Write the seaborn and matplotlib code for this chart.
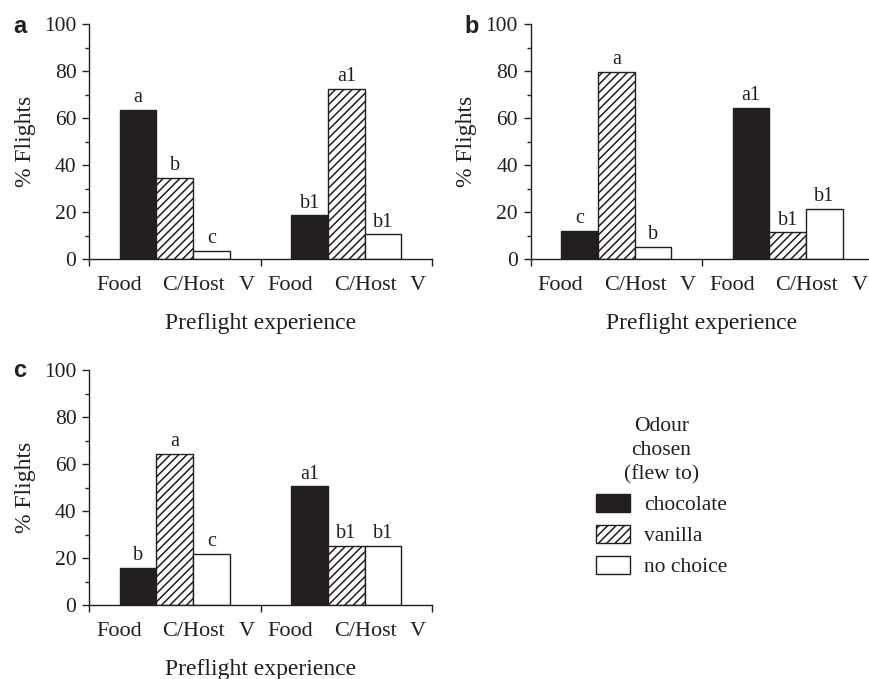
import matplotlib
matplotlib.use("Agg")
import matplotlib.pyplot as plt
import pandas as pd
import seaborn as sns
from matplotlib.patches import Patch
from matplotlib.ticker import MultipleLocator

# ---- data -------------------------------------------------------------
odours = ["chocolate", "vanilla", "no choice"]
trials = ["first", "second"]

# % flights to each odour, left and right preflight sets of each panel
a_first = [63.5, 34.5, 3.6]
a_second = [18.6, 72.5, 10.5]
b_first = [12.0, 79.5, 5.0]
b_second = [64.2, 11.3, 21.3]
c_first = [15.8, 64.4, 21.6]
c_second = [50.5, 25.3, 25.3]

# significance letters above each bar
a_first_sig = ["a", "b", "c"]
a_second_sig = ["b1", "a1", "b1"]
b_first_sig = ["c", "a", "b"]
b_second_sig = ["a1", "b1", "b1"]
c_first_sig = ["b", "a", "c"]
c_second_sig = ["a1", "b1", "b1"]

experience_labels = ["Food", "C/Host", "V"]
panel_letters = ["a", "b", "c"]

# ---- style ------------------------------------------------------------
INK = "#231f20"
sns.set_style("ticks")
plt.rcParams.update({
    "font.family": ["Liberation Serif", "DejaVu Serif"],
    "font.size": 15,
    "text.color": INK,
    "axes.labelcolor": INK,
    "axes.edgecolor": INK,
    "axes.linewidth": 1.0,
    "xtick.color": INK,
    "ytick.color": INK,
    "hatch.color": INK,
    "hatch.linewidth": 1.1,
})

palette = {"chocolate": INK, "vanilla": "white", "no choice": "white"}
hatches = {"chocolate": "", "vanilla": "////", "no choice": ""}

W, H = 870, 679
fig = plt.figure(figsize=(W / 100, H / 100), dpi=100)


def px_axes(left, top, width, height):
    return fig.add_axes([left / W, 1 - (top + height) / H, width / W, height / H])


def draw_panel(ax, first, second, first_sig, second_sig):
    df = pd.DataFrame({
        "trial": [t for t in trials for _ in odours],
        "odour": odours * len(trials),
        "pct": list(first) + list(second),
    })
    sns.barplot(data=df, x="trial", y="pct", hue="odour", order=trials,
                hue_order=odours, palette=palette, saturation=1, width=0.64,
                gap=0, edgecolor=INK, linewidth=1.0, legend=False,
                errorbar=None, ax=ax)
    for odour, cont in zip(odours, ax.containers):
        for bar in cont:
            bar.set_hatch(hatches[odour])
        i = odours.index(odour)
        ax.bar_label(cont, labels=[first_sig[i], second_sig[i]],
                     padding=2, fontsize=14.5, color=INK)

    ax.set_xlim(-0.5, 1.5)
    ax.set_ylim(0, 100)
    ax.set_xticks([-0.5, 0.5, 1.5], ["", "", ""])
    offsets = [0.175, 0.61, 0.92]
    pos = [g - 0.5 + o for g in range(len(trials)) for o in offsets]
    ax.set_xticks(pos, experience_labels * len(trials), minor=True)
    ax.tick_params(axis="x", which="major", length=5, width=1.0, direction="out")
    ax.tick_params(axis="x", which="minor", length=0, pad=12, labelsize=16)

    ax.set_yticks(range(0, 101, 20))
    ax.yaxis.set_minor_locator(MultipleLocator(10))
    ax.tick_params(axis="y", which="major", length=5, width=1.0, pad=4,
                   labelsize=15.5)
    ax.tick_params(axis="y", which="minor", length=3, width=1.0)

    ax.set_xlabel("Preflight experience", fontsize=17, labelpad=13)
    ax.set_ylabel("% Flights", fontsize=17, labelpad=6)
    sns.despine(ax=ax)


ax_a = px_axes(89, 24, 343, 235)
ax_b = px_axes(530.5, 24, 343, 235)
ax_c = px_axes(89, 370, 343, 235)

draw_panel(ax_a, a_first, a_second, a_first_sig, a_second_sig)
draw_panel(ax_b, b_first, b_second, b_first_sig, b_second_sig)
draw_panel(ax_c, c_first, c_second, c_first_sig, c_second_sig)

for letter, (x, y) in zip(panel_letters, [(13, 33), (464, 33), (13, 377)]):
    fig.text(x / W, 1 - y / H, letter, ha="left", va="baseline",
             fontsize=17, fontweight="bold", family="Liberation Sans",
             color=INK)

handles = [Patch(facecolor=palette[o], edgecolor=INK, hatch=hatches[o],
                 linewidth=1.0, label=o) for o in odours]
leg = fig.legend(handles=handles, title="Odour\nchosen\n(flew to)",
                 loc="center", bbox_to_anchor=(661.5 / W, 1 - 497 / H),
                 frameon=False, fontsize=15.5, title_fontsize=15.5,
                 handlelength=1.6, handleheight=0.9, handletextpad=0.65,
                 labelspacing=0.45, borderpad=0)
leg.get_title().set_multialignment("center")
leg.get_title().set_linespacing(1.35)

fig.savefig("out.png", dpi=100)
